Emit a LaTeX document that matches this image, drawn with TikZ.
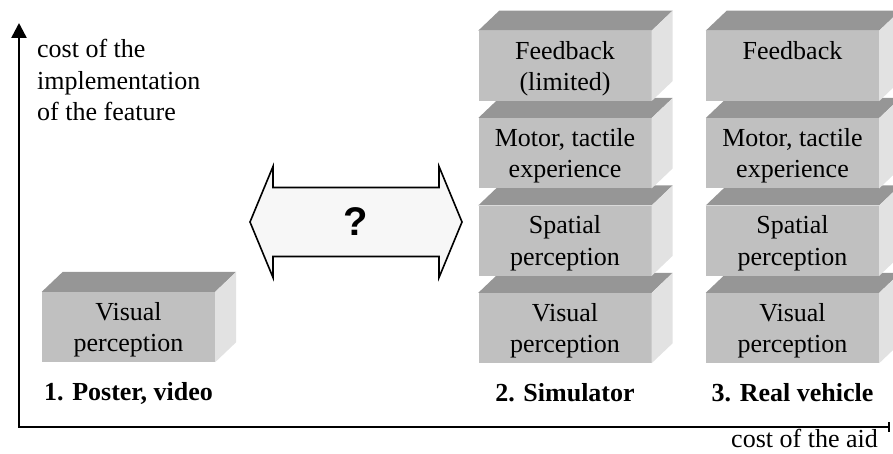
\documentclass[tikz,border=0pt]{standalone}
\usepackage{fontspec}
\setmainfont{Liberation Serif}
\newfontfamily\qfont{Liberation Sans}
\usetikzlibrary{shapes.arrows,arrows.meta,positioning}
\definecolor{frontgray}{RGB}{192,192,192}
\definecolor{topgray}{RGB}{150,150,150}
\definecolor{sidegray}{RGB}{226,226,226}
\definecolor{arrowfill}{RGB}{247,247,247}
\newcommand{\facets}[1]{%
  \fill[topgray] (#1.north west) -- ++(21,-20) -- ([shift={(21,-20)}]#1.north east) -- (#1.north east) -- cycle;
  \fill[sidegray] (#1.north east) -- ++(21,-20) -- ([shift={(21,-20)}]#1.south east) -- (#1.south east) -- cycle;}

\begin{document}
\begin{tikzpicture}[x=1pt,y=-1pt,node distance=17pt,font=\fontsize{26}{31.5}\selectfont]
\tikzstyle{face} = [rectangle, minimum width=173pt, minimum height=70pt, inner sep=0pt, fill=frontgray, align=center, text depth=-2.5pt]
\tikzstyle{caption} = [inner sep=0pt, font=\fontsize{26}{31}\selectfont\bfseries]
\tikzstyle{axis} = [line width=2.5pt, line cap=rect]

\useasboundingbox (0,0) rectangle (893,454);

% axes
\coordinate (origin) at (19,427);
\coordinate (ytip) at (19,23);
\coordinate (xend) at (890,427);
\draw [axis,-{Triangle[width=15pt,length=15pt]}] (origin) -- (ytip);
\draw [axis,-{Bar[width=10pt]}] (origin) -- (xend);
\node (ylab) [anchor=north west, align=left, inner sep=0pt] at (37,39) {cost of the\\implementation\\of the feature};
\node (xlab) [anchor=base east, inner sep=0pt] at (878,447) {cost of the aid};

% 1. poster
\node (posvis) [face] at (128.5,327) {Visual\\perception};
\facets{posvis}
\node (poslab) [caption, below=20pt of posvis] {1. Poster, video};

% 2. simulator
\node (simvis) [face] at (565,328) {Visual\\perception};
\facets{simvis}
\node (simspa) [face, above=of simvis] {Spatial\\perception};
\facets{simspa}
\node (simmot) [face, above=of simspa] {Motor, tactile\\experience};
\facets{simmot}
\node (simfb) [face, above=of simmot] {Feedback\\(limited)};
\facets{simfb}
\node (simlab) [caption, below=20pt of simvis] {2. Simulator};

% 3. real vehicle
\node (carvis) [face] at (792.5,328) {Visual\\perception};
\facets{carvis}
\node (carspa) [face, above=of carvis] {Spatial\\perception};
\facets{carspa}
\node (carmot) [face, above=of carspa] {Motor, tactile\\experience};
\facets{carmot}
\node (carfb) [face, above=of carmot] {Feedback\\\phantom{(limited)}};
\facets{carfb}
\node (carlab) [caption, below=20pt of carvis] {3. Real vehicle};

% open question between poster and simulator
\node (gap) [double arrow, draw, line width=1.6pt, fill=arrowfill, inner xsep=0pt, inner ysep=18pt,
  minimum height=212pt, minimum width=111pt, double arrow head extend=20pt,
  double arrow tip angle=135] at (356,222) {\qfont\fontsize{40}{40}\selectfont\bfseries ?};

\end{tikzpicture}
\end{document}
